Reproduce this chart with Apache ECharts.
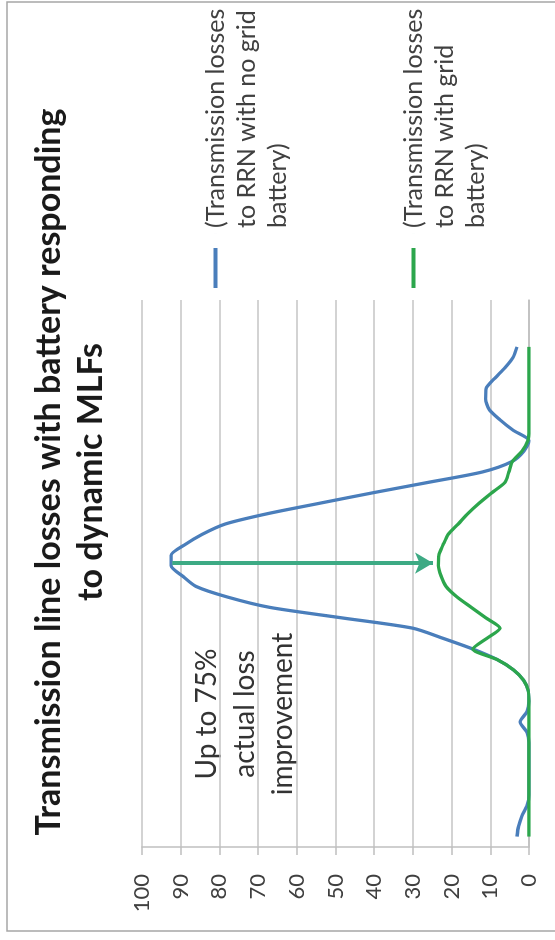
<!DOCTYPE html>
<html><head><meta charset="utf-8">
<script src="https://cdn.jsdelivr.net/npm/echarts@6/dist/echarts.min.js"></script>
<style>
html,body{margin:0;padding:0;background:#fff;width:555px;height:940px;overflow:hidden}
#chart{position:absolute;left:0;top:0;width:940px;height:555px;transform-origin:0 0;transform:rotate(-90deg) translateX(-940px);}
</style></head><body><div id="chart"></div>
<script>
// Trading intervals (half-hours) 1..48
const intervals = [1,2,3,4,5,6,7,8,9,10,11,12,13,14,15,16,17,18,19,20,21,22,23,24,
  25,26,27,28,29,30,31,32,33,34,35,36,37,38,39,40,41,42,43,44,45,46,47,48];
// Transmission losses to RRN with no grid battery
const lossNoBattery = [3.1,2.7,1.8,0.5,0,0,0,0,0,0,0.5,2.3,0.5,0,0.2,1.4,4.0,8.3,14.5,22,
  30,48.5,67,78,86,89.5,92.5,92.5,89,84.5,78.5,67.5,54,40.3,26,12,4.4,1.3,0,4.1,
  7.5,10.3,11.2,11.1,8.8,6.2,4.1,3.1];
// Transmission losses to RRN with grid battery
const lossWithBattery = [0,0,0,0,0,0,0,0,0,0,0,0,0,0,0.2,1.4,4.0,8.3,14.5,11,
  7.5,11.2,14.9,18.6,21.4,22.7,23.4,23.3,22.2,20.9,18.3,15.8,12.9,9.6,6.2,5.2,4.3,1.8,0.3,0,
  0,0,0,0,0,0,0,0];
const seriesNames = ['(Transmission losses to RRN with no grid battery)',
                     '(Transmission losses to RRN with grid battery)'];
const legendLabels = ['(Transmission losses\nto RRN with no grid\nbattery)',
                      '(Transmission losses\nto RRN with grid\nbattery)'];
const valueTicks = [0,10,20,30,40,50,60,70,80,90,100];
const chartTitle = 'Transmission line losses with battery responding\nto dynamic MLFs';
const annotation = 'Up to 75%\nactual loss\nimprovement';
const arrowAt = 27.25, arrowFrom = 92.2, arrowTo = 24.8;

const FONT = 'Lato';
const chart = echarts.init(document.getElementById('chart'), null, {renderer:'canvas'});
chart.setOption({
  animation:false,
  backgroundColor:'#fff',
  title:{
    text: chartTitle, left:463, top:23, textAlign:'center',
    textStyle:{fontFamily:FONT, fontWeight:'bold', fontSize:34, lineHeight:42, color:'#1a1a1a'}
  },
  legend:{
    orient:'vertical', left:647, top:133, itemWidth:55, itemHeight:4,
    icon:'path://M0 0H40V4H0ZM54.99 0H55V4H54.99Z', itemGap:43,
    formatter: function(name){ return '\n\n' + legendLabels[seriesNames.indexOf(name)]; },
    textStyle:{fontFamily:FONT, fontSize:25, lineHeight:31, color:'#404040'},
    data: seriesNames
  },
  grid:{left:93, right:300, top:142, bottom:26, containLabel:false},
  xAxis:{type:'value', min:0, max:52.5,
    axisLine:{show:true, lineStyle:{color:'#bfbfbf', width:1.5}},
    axisTick:{show:false}, axisLabel:{show:false}, splitLine:{show:false}},
  yAxis:{type:'value', min:valueTicks[0], max:valueTicks[valueTicks.length-1], interval:10,
    axisLine:{show:true, lineStyle:{color:'#bfbfbf', width:1.5}},
    axisTick:{show:true, length:8, lineStyle:{color:'#bfbfbf', width:1.5}},
    axisLabel:{fontFamily:FONT, fontSize:22, color:'#404040', margin:27},
    splitLine:{show:true, lineStyle:{color:'#c4c4c4', width:1.5}}},
  graphic:[
    {type:'rect', shape:{x:9, y:7, width:929, height:600}, style:{fill:'none', stroke:'#a6a6a6', lineWidth:1.5}, silent:true},
    {type:'text', x:226, y:245, style:{text:annotation, fontFamily:FONT, fontSize:28, lineHeight:38, fill:'#333', align:'center', verticalAlign:'middle'}, silent:true}
  ],
  series:[
    {name:seriesNames[0], type:'line', symbol:'none', smooth:0.25,
      lineStyle:{color:'#4a7ebb', width:3.3}, itemStyle:{color:'#4a7ebb'},
      data: intervals.map((t,i)=>[t, lossNoBattery[i]])},
    {name:seriesNames[1], type:'line', symbol:'none', smooth:0.25,
      lineStyle:{color:'#2ca64c', width:3.3}, itemStyle:{color:'#2ca64c'},
      data: intervals.map((t,i)=>[t, lossWithBattery[i]]),
      markLine:{silent:true, symbol:['none','arrow'], symbolSize:[16,18],
        label:{show:false}, lineStyle:{color:'#3daa84', width:4, type:'solid'},
        emphasis:{disabled:true},
        data:[[{coord:[arrowAt, arrowFrom]},{coord:[arrowAt, arrowTo]}]]}}
  ]
});
</script></body></html>
